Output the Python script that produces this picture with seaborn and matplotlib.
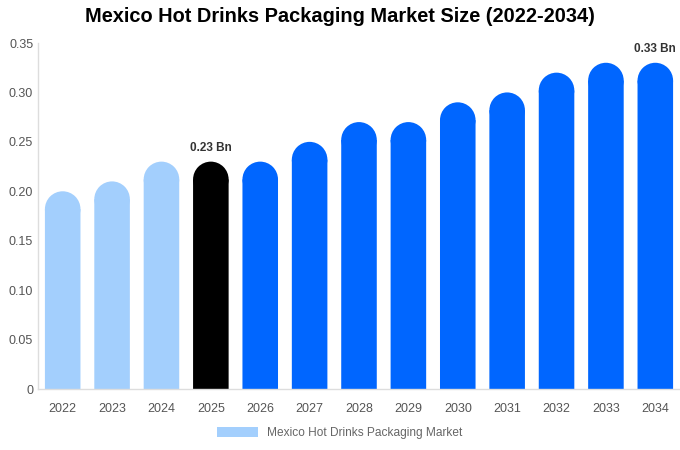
import matplotlib
matplotlib.use("Agg")
import matplotlib.pyplot as plt
from matplotlib.patches import Ellipse, Patch
import seaborn as sns
import pandas as pd

sns.set_theme(style="white")
plt.rcParams['font.family'] = ['Liberation Sans', 'DejaVu Sans']

years = ["2022", "2023", "2024", "2025", "2026", "2027", "2028",
         "2029", "2030", "2031", "2032", "2033", "2034"]
values = [0.20, 0.21, 0.23, 0.23, 0.23, 0.25, 0.27, 0.27, 0.29, 0.30, 0.32, 0.33, 0.33]
colors = ["#a3cffd"] * 3 + ["#000000"] + ["#0066ff"] * 9
labels = {"2025": "0.23 Bn", "2034": "0.33 Bn"}
series_name = "Mexico Hot Drinks Packaging Market"

df = pd.DataFrame({"year": years, "value": values})

fig = plt.figure(figsize=(6.8, 4.5), dpi=100)
ax = fig.add_axes([38 / 680, 61 / 450, 642 / 680, 346 / 450])

sns.barplot(data=df, x="year", y="value", hue="year", palette=colors,
            legend=False, width=0.72, ax=ax, saturation=1)

ax.set_ylim(0, 0.35)
ax.set_xlim(-0.5, len(years) - 0.5)
ax.set_yticks([0, 0.05, 0.10, 0.15, 0.20, 0.25, 0.30, 0.35])
ax.set_yticklabels(["0", "0.05", "0.10", "0.15", "0.20", "0.25", "0.30", "0.35"])
ax.set_xlabel("")
ax.set_ylabel("")
ax.tick_params(axis="both", colors="#555555", labelsize=9, length=0)
ax.tick_params(axis="x", pad=10)
for s in ["top", "right"]:
    ax.spines[s].set_visible(False)
for s in ["left", "bottom"]:
    ax.spines[s].set_color("#dddddd")
    ax.spines[s].set_linewidth(1)

# rounded tops: half bar width in pixels -> data y units
fig.canvas.draw()
bbox = ax.get_window_extent()
px_per_x = bbox.width / (ax.get_xlim()[1] - ax.get_xlim()[0])
px_per_y = bbox.height / (ax.get_ylim()[1] - ax.get_ylim()[0])
for bar in list(ax.patches):
    w = bar.get_width()
    h = bar.get_height()
    ry = (w * px_per_x / 2) / px_per_y
    xc = bar.get_x() + w / 2
    bar.set_height(h - ry)
    bar.set_edgecolor("none")
    bar.set_linewidth(0)
    bar.set_snap(False)
    ax.add_patch(Ellipse((xc, h - ry), w, 2 * ry, facecolor=bar.get_facecolor(),
                         edgecolor="none", linewidth=0))

for i, y in enumerate(years):
    if y in labels:
        ax.text(i, values[i] + 0.008, labels[y], ha="center", va="bottom",
                fontsize=8.5, fontweight="bold", color="#333333")

fig.suptitle("Mexico Hot Drinks Packaging Market Size (2022-2034)",
             fontsize=14.4, fontweight="bold", y=0.985, x=0.5, color="#000000")

fig.legend(handles=[Patch(facecolor="#a3cffd", edgecolor="none", label=series_name)],
           loc="center", bbox_to_anchor=(0.5, 1 - 433 / 450), frameon=False,
           fontsize=8.6, labelcolor="#666666", handlelength=3.4, handleheight=1.0)

fig.savefig("out.png", dpi=100)
